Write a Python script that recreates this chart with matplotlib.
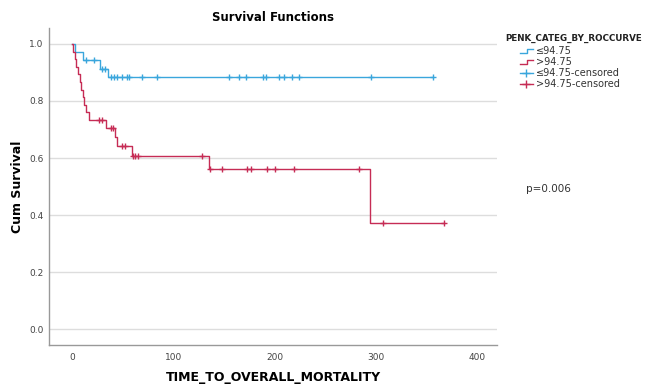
import numpy as np
import matplotlib.pyplot as plt
from matplotlib.lines import Line2D
from matplotlib.legend_handler import HandlerBase

# ---- data ----
# low group (<=94.75): step times and survival level after each step
low_times = [0, 3, 10.5, 27, 35, 357]
low_surv = [1.0, 0.971, 0.943, 0.914, 0.883, 0.883]
low_cens_t = [13.9, 21.5, 29.4, 32, 37.9, 41.3, 44.6, 49.5, 53.8, 56.2, 69.3, 84.2,
              155, 165, 172, 189, 192, 204, 209, 217, 224, 295, 357]
low_cens_s = [0.943, 0.943, 0.914, 0.914] + [0.883] * 19

# high group (>94.75)
high_times = [0, 1, 2.5, 4, 6, 7.5, 9, 10.5, 12, 14, 16.5, 33, 42, 44.6, 59.4, 134.7, 294.4, 367.6]
high_surv = [1.0, 0.973, 0.947, 0.92, 0.893, 0.867, 0.84, 0.813, 0.787, 0.76, 0.733,
             0.705, 0.675, 0.642, 0.607, 0.560, 0.373, 0.373]
high_cens_t = [26.4, 29.7, 37.9, 40.3, 49.5, 52.2, 60.4, 62.4, 64.7, 128.4,
               136.6, 148.2, 173, 176.2, 192.8, 200.3, 219.1, 283.5, 307.6, 367.6]
high_cens_s = [0.733, 0.733, 0.705, 0.705, 0.642, 0.642, 0.607, 0.607, 0.607, 0.607,
               0.560, 0.560, 0.560, 0.560, 0.560, 0.560, 0.560, 0.560, 0.373, 0.373]

xticks = [0, 100, 200, 300, 400]
yticks = [0.0, 0.2, 0.4, 0.6, 0.8, 1.0]

blue = '#3aa6dc'
red = '#c62c55'


class HandlerStep(HandlerBase):
    # little step icon like the SPSS legend
    def create_artists(self, legend, orig_handle, xdescent, ydescent,
                       width, height, fontsize, trans):
        x0, x1 = -xdescent, -xdescent + width
        xm = x0 + width * 0.55
        y0 = -ydescent + height * 0.2
        y1 = -ydescent + height * 0.8
        ln = Line2D([x0, xm, xm, x1], [y0, y0, y1, y1],
                    color=orig_handle.get_color(), lw=1, transform=trans)
        return [ln]


fig = plt.figure(figsize=(6.49, 3.84), dpi=100)
ax = fig.add_axes([0.0755, 0.1016, 0.6905, 0.8254])

ax.step(low_times, low_surv, where='post', color=blue, lw=1)
ax.step(high_times, high_surv, where='post', color=red, lw=1)
ax.plot(low_cens_t, low_cens_s, ls='none', marker='+', ms=5, mew=1, color=blue)
ax.plot(high_cens_t, high_cens_s, ls='none', marker='+', ms=5, mew=1, color=red)

ax.set_xlim(-23, 420)
ax.set_ylim(-0.056, 1.056)
ax.set_xticks(xticks)
ax.set_yticks(yticks)
ax.set_yticklabels([f'{v:.1f}' for v in yticks])
ax.tick_params(length=0, labelsize=6.5, labelcolor='#444444')
ax.tick_params(axis='x', pad=6)
ax.tick_params(axis='y', pad=4)
ax.grid(axis='y', color='#dddddd', lw=1)
ax.set_axisbelow(True)
for s in ['top', 'right']:
    ax.spines[s].set_visible(False)
for s in ['left', 'bottom']:
    ax.spines[s].set_color('#999999')
    ax.spines[s].set_linewidth(1)

ax.set_title('Survival Functions', fontsize=8.5, fontweight='bold', pad=5)
ax.set_xlabel('TIME_TO_OVERALL_MORTALITY', fontsize=9, fontweight='bold', labelpad=6)
ax.set_ylabel('Cum Survival', fontsize=9, fontweight='bold', labelpad=4)

h1 = Line2D([], [], color=blue)
h2 = Line2D([], [], color=red)
h3 = Line2D([0], [0], color=blue, lw=1, marker='+', ms=6)
h4 = Line2D([0], [0], color=red, lw=1, marker='+', ms=6)
fig.text(0.778, 0.893, 'PENK_CATEG_BY_ROCCURVE', fontsize=6.3, fontweight='bold',
         color='#222222')
leg = fig.legend([h1, h2, h3, h4],
                 ['≤94.75', '>94.75', '≤94.75-censored', '>94.75-censored'],
                 handler_map={h1: HandlerStep(), h2: HandlerStep()},
                 loc='upper left', bbox_to_anchor=(0.793, 0.893),
                 frameon=False, fontsize=7,
                 handlelength=1.4, handletextpad=0.3, labelspacing=0.12,
                 borderpad=0)
for t in leg.get_texts():
    t.set_color('#333333')

fig.text(0.81, 0.50, 'p=0.006', fontsize=7.5, color='#333333')

fig.savefig('out.png', dpi=100)
